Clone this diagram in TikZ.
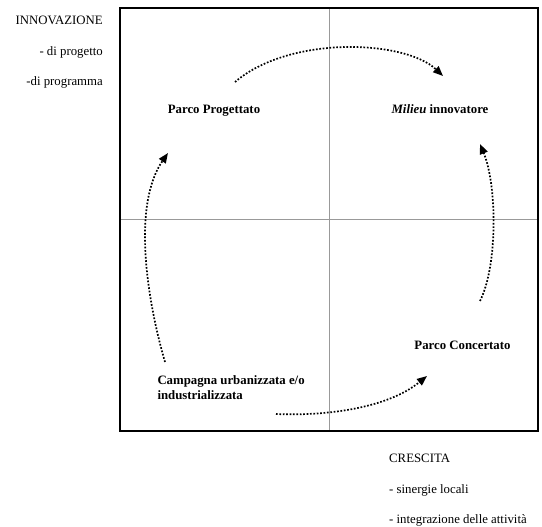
\documentclass[tikz,border=0pt]{standalone}
\usepackage{fontspec}
\setmainfont{Liberation Serif}
\usetikzlibrary{arrows.meta}
\begin{document}
\begin{tikzpicture}[x=1pt,y=-1pt,
  lbl/.style={inner sep=0pt, font=\fontsize{12.8}{15.5}\selectfont},
  blbl/.style={inner sep=0pt, font=\fontsize{12.8}{15.5}\selectfont\bfseries},
  flow/.style={line width=1.7pt, dash pattern=on 1.7pt off 1.7pt, -{Triangle[length=10pt,width=8pt]}},
  axisline/.style={line width=0.6pt, black!40, dash pattern=on 0.5pt off 0.5pt},
  frame/.style={line width=1.8pt}]
\useasboundingbox (0,0) rectangle (542,527);
% frame and axes
\coordinate (tl) at (120,8);
\coordinate (br) at (538,431);
\coordinate (vt) at (329.5,8);
\coordinate (vb) at (329.5,431);
\coordinate (hl) at (120,219);
\coordinate (hr) at (538,219);
\draw[axisline] (vt) -- (vb);
\draw[axisline] (hl) -- (hr);
\draw[frame] (tl) rectangle (br);
% axis labels
\node[lbl, anchor=base east] (inn) at (103,24.5) {INNOVAZIONE};
\node[lbl, anchor=base east] (prog) at (103,55.5) {- di progetto};
\node[lbl, anchor=base east] (progr) at (103,85.5) {-di programma};
\node[lbl, anchor=base west] (cre) at (389,462) {CRESCITA};
\node[lbl, anchor=base west] (sin) at (389,493) {- sinergie locali};
\node[lbl, anchor=base west] (int) at (389,523.5) {- integrazione delle attività};
% quadrant labels
\node[blbl, anchor=base] (pp) at (214,113.5) {Parco Progettato};
\node[blbl, anchor=base] (mi) at (440,113.5) {\textit{Milieu} innovatore};
\node[blbl, anchor=base] (pc) at (462.5,349.5) {Parco Concertato};
\node[blbl, anchor=north west, align=left] (cu) at (157.3,375.3) {Campagna urbanizzata e/o\\industrializzata};
% arrows
\coordinate (a1s) at (235,82);
\coordinate (a1e) at (443,76);
\coordinate (a2s) at (165,362);
\coordinate (a2e) at (168,153);
\coordinate (a3s) at (276,414);
\coordinate (a3e) at (427,376);
\coordinate (a4s) at (480,301);
\coordinate (a4e) at (480,144);
\draw[flow] (a1s) .. controls (290,35) and (405,40) .. (a1e);
\draw[flow] (a2s) .. controls (147,300) and (132,205) .. (a2e);
\draw[flow] (a3s) .. controls (320,416) and (385,410) .. (a3e);
\draw[flow] (a4s) .. controls (498,265) and (497,185) .. (a4e);
\end{tikzpicture}
\end{document}
